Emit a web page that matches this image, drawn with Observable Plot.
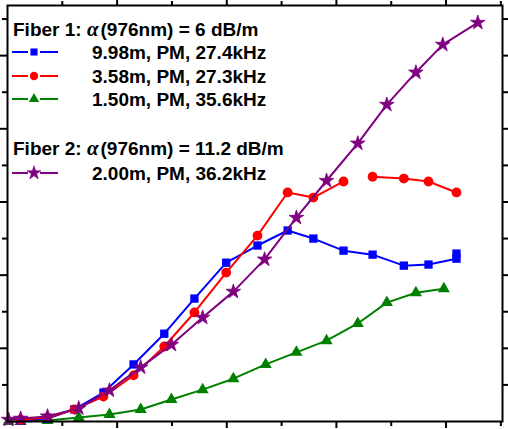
<!DOCTYPE html>
<html>
<head>
<meta charset="utf-8">
<script src="https://cdn.jsdelivr.net/npm/d3@7"></script>
<script src="https://cdn.jsdelivr.net/npm/@observablehq/plot@0.6"></script>
<style>
  html, body { margin: 0; padding: 0; background: #fff; }
  #chart svg { display: block; }
</style>
</head>
<body>
<div id="chart"></div>
<script>
// ---- data (arbitrary units) ----
const blueX   = [0.24, 0.73, 1.22, 1.75, 2.30, 2.86, 3.41, 3.99, 4.56, 5.11, 5.58, 6.13, 6.66, 7.23, 7.68, 8.19, 8.19];
const blueY   = [0.03, 0.08, 0.33, 0.79, 1.56, 2.40, 3.36, 4.34, 4.81, 5.22, 5.00, 4.67, 4.56, 4.26, 4.29, 4.45, 4.59];
const redX    = [0.24, 0.73, 1.22, 1.75, 2.30, 2.86, 3.41, 3.99, 4.56, 5.11, 5.58, 6.13, 6.66, 7.23, 7.68, 8.19];
const redY    = [0.05, 0.11, 0.33, 0.68, 1.26, 2.05, 2.98, 4.07, 5.08, 6.26, 6.12, 6.56, 6.69, 6.64, 6.56, 6.26];
const redPart = [1, 1, 1, 1, 1, 1, 1, 1, 1, 1, 1, 1, 2, 2, 2, 2];
const greenX  = [0.02, 0.24, 0.73, 1.30, 1.86, 2.43, 2.99, 3.56, 4.12, 4.71, 5.27, 5.82, 6.39, 6.92, 7.45, 7.96];
const greenY  = [0.00, 0.00, 0.03, 0.11, 0.19, 0.33, 0.60, 0.87, 1.17, 1.56, 1.89, 2.21, 2.68, 3.25, 3.52, 3.63];
const purpleX = [0.02, 0.24, 0.73, 1.30, 1.86, 2.43, 2.99, 3.56, 4.12, 4.69, 5.27, 5.82, 6.39, 6.92, 7.45, 7.94, 8.58];
const purpleY = [0.05, 0.08, 0.14, 0.36, 0.85, 1.48, 2.10, 2.84, 3.55, 4.43, 5.57, 6.58, 7.60, 8.66, 9.54, 10.30, 10.90];

const xMajor = [2, 4, 6, 8];
const xMinor = [1, 3, 5, 7, 9];
const yMajor = [2, 4, 6, 8, 10];
const yMinor = [1, 3, 5, 7, 9, 11];

const legendTitle1 = ["Fiber 1: ", "α", "(976nm) = 6 dB/m"];
const legendTitle2 = ["Fiber 2: ", "α", "(976nm) = 11.2 dB/m"];
const legendLabels = ["9.98m, PM, 27.4kHz", "3.58m, PM, 27.3kHz", "1.50m, PM, 35.6kHz", "2.00m, PM, 36.2kHz"];
const seriesColors = ["#0000ff", "#ff0000", "#008000", "#800080"];
const seriesSymbols = ["square", "circle", "triangle", "star"];

// ---- tables ----
const blue = blueX.map((x, i) => ({x, y: blueY[i]}));
const red = redX.map((x, i) => ({x, y: redY[i], part: redPart[i]}));
const green = greenX.map((x, i) => ({x, y: greenY[i]}));
const purple = purpleX.map((x, i) => ({x, y: purpleY[i]}));

const symR = {square: 4.7, circle: 4.9, triangle: 4.5, star: 4.6};

function series(data, color, symbol, z) {
  return [
    Plot.line(data, {x: "x", y: "y", z: z, stroke: color, strokeWidth: 2}),
    Plot.dot(data, {x: "x", y: "y", symbol: () => symbol, fill: color,
      stroke: symbol === "star" ? color : "none", strokeWidth: 0.8, r: symR[symbol]})
  ];
}

function legend() {
  const g = d3.create("svg:g")
    .attr("font-family", "'Liberation Sans', Arial, sans-serif")
    .attr("font-weight", "bold")
    .attr("font-size", 19)
    .attr("text-anchor", "start")
    .attr("fill", "black");

  function title(parts, baseline) {
    const t = g.append("text").attr("x", 13).attr("y", baseline);
    t.append("tspan").text(parts[0]);
    t.append("tspan").text(parts[1])
      .attr("font-family", "'Liberation Serif', 'DejaVu Serif', serif")
      .attr("font-style", "italic").attr("font-weight", "bold").attr("font-size", 21);
    t.append("tspan").text(parts[2]).attr("dx", 2);
  }
  function row(i, cy) {
    const c = seriesColors[i];
    g.append("line").attr("x1", 12).attr("x2", 28).attr("y1", cy).attr("y2", cy).attr("stroke", c).attr("stroke-width", 2);
    g.append("line").attr("x1", 40).attr("x2", 58).attr("y1", cy).attr("y2", cy).attr("stroke", c).attr("stroke-width", 2);
    const s = seriesSymbols[i];
    const sym = {square: d3.symbolSquare, circle: d3.symbolCircle, triangle: d3.symbolTriangle, star: d3.symbolStar}[s];
    const r = symR[s] * (s === "star" ? 0.95 : 0.85);
    g.append("path").attr("d", d3.symbol(sym, Math.PI * r * r)())
      .attr("transform", `translate(34,${cy})`).attr("fill", c)
      .attr("stroke", s === "star" ? c : "none").attr("stroke-width", 0.6);
    g.append("text").attr("x", 92).attr("y", cy + 7).text(legendLabels[i]);
  }
  title(legendTitle1, 36);
  row(0, 52);
  row(1, 76);
  row(2, 99);
  title(legendTitle2, 155);
  row(3, 173);
  return g.node();
}

const blank = () => "";

const plot = Plot.plot({
  width: 508,
  height: 429,
  marginLeft: 7,
  marginRight: 6,
  marginTop: 5,
  marginBottom: 8,
  style: {background: "white"},
  x: {domain: [0, 9.03]},
  y: {domain: [0, 11.37]},
  marks: [
    ...series(green, seriesColors[2], "triangle"),
    ...series(blue, seriesColors[0], "square"),
    ...series(red, seriesColors[1], "circle", "part"),
    ...series(purple, seriesColors[3], "star"),
    Plot.axisX(xMajor, {anchor: "bottom", tickSize: 7, tickFormat: blank, strokeWidth: 2, label: null}),
    Plot.axisX(xMinor, {anchor: "bottom", tickSize: 5, tickFormat: blank, strokeWidth: 2, label: null}),
    Plot.axisX(xMajor, {anchor: "top", tickSize: 7, tickFormat: blank, strokeWidth: 2, label: null}),
    Plot.axisX(xMinor, {anchor: "top", tickSize: 5, tickFormat: blank, strokeWidth: 2, label: null}),
    Plot.axisY(yMajor, {anchor: "left", tickSize: 7, tickFormat: blank, strokeWidth: 2, label: null}),
    Plot.axisY(yMinor, {anchor: "left", tickSize: 5, tickFormat: blank, strokeWidth: 2, label: null}),
    Plot.axisY(yMajor, {anchor: "right", tickSize: 7, tickFormat: blank, strokeWidth: 2, label: null}),
    Plot.axisY(yMinor, {anchor: "right", tickSize: 5, tickFormat: blank, strokeWidth: 2, label: null}),
    Plot.frame({stroke: "black", strokeWidth: 2}),
    legend
  ]
});
document.getElementById("chart").appendChild(plot);
</script>
</body>
</html>
